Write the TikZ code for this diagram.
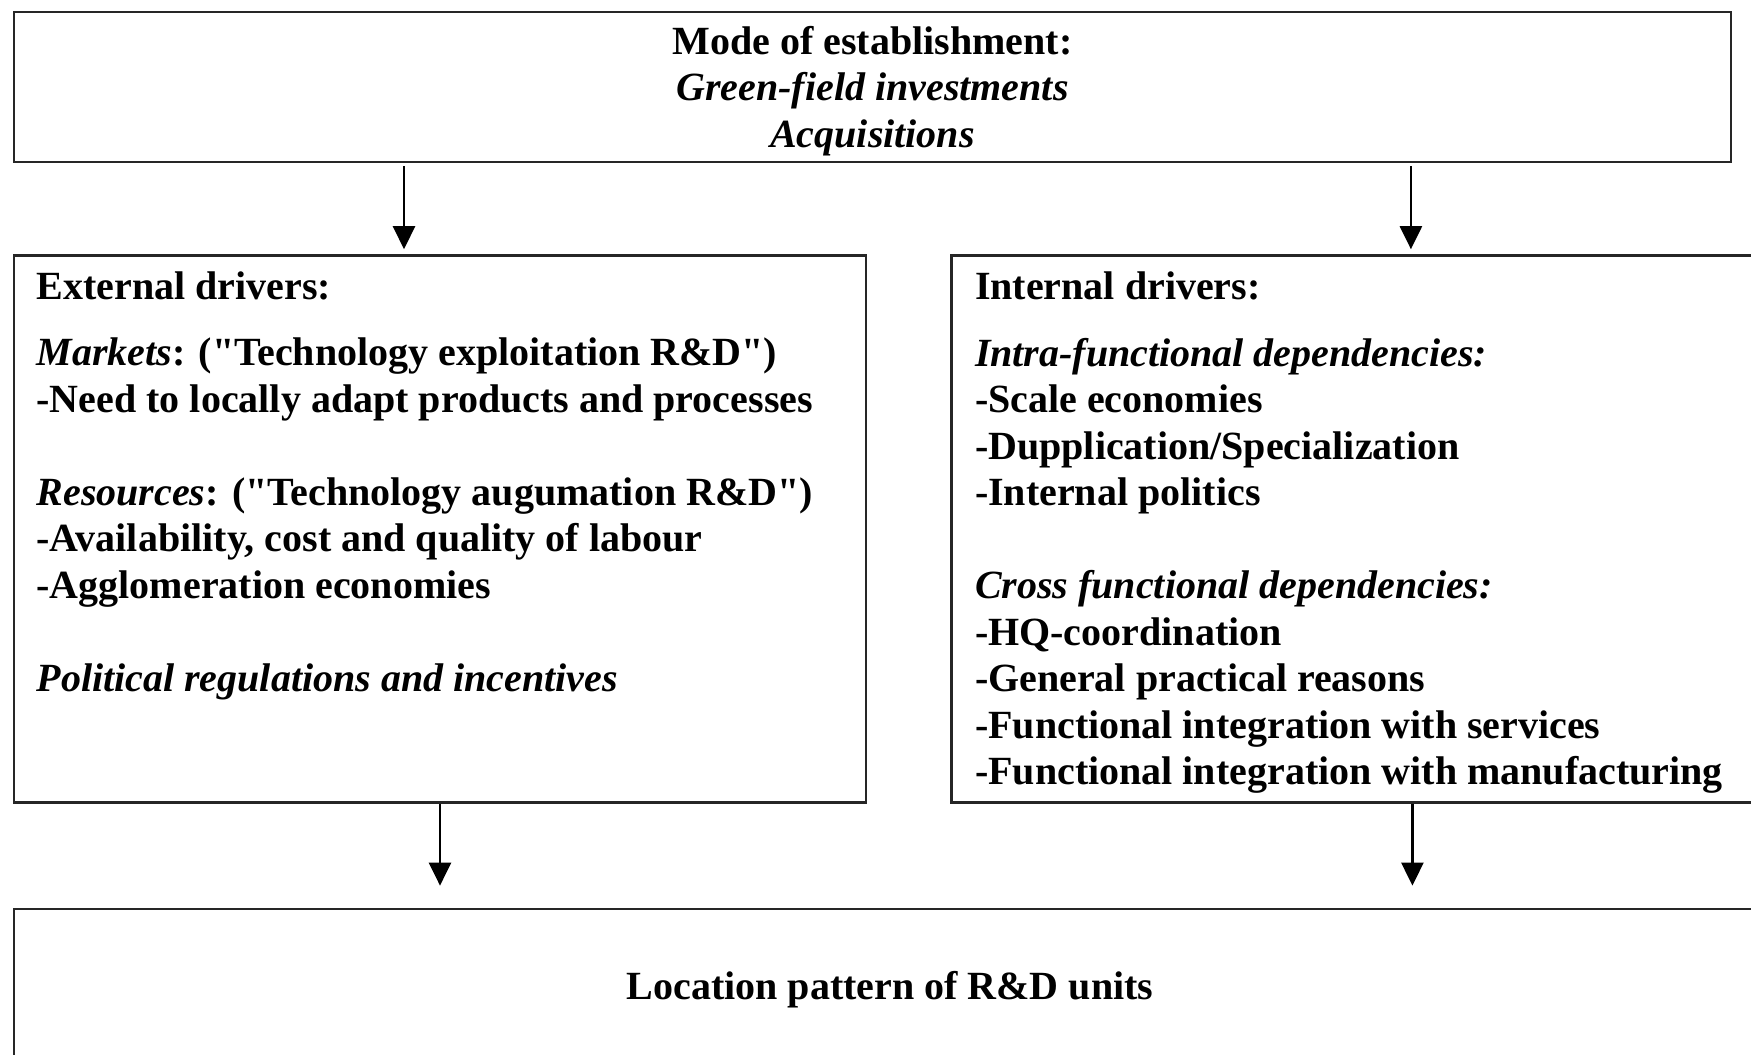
\documentclass[tikz,border=0pt]{standalone}
\usepackage{fontspec}
\setmainfont{Liberation Serif}
\usepackage{tikz}
\usetikzlibrary{arrows.meta,positioning,calc}

\begin{document}
\begin{tikzpicture}[
  x=0.25pt,y=0.25pt,
  font=\fontsize{10pt}{11.625pt}\selectfont\bfseries,
  box/.style={rectangle,draw=black!85,line width=0.6pt,inner sep=0pt,align=center},
  txt/.style={inner sep=0pt,align=left,anchor=base west},
  arr/.style={-{Triangle[length=5.75pt,width=5.5pt]},line width=0.6pt}
]
\useasboundingbox (0,0) rectangle (1751,-1054);
\clip (0,0) rectangle (1751,-1054);
\node[box,minimum width=429.25pt,minimum height=37.5pt] (mode) at (872.5,-87) {};
\node[align=center,inner sep=0pt,yshift=-1pt] (modetext) at (mode) {Mode of establishment:\\\textit{Green-field investments}\\\textit{Acquisitions}};
\node[box,minimum width=213pt,minimum height=136.75pt,below=22.75pt of mode.south west,anchor=north west] (ext) {};
\node[box,minimum width=230.5pt,minimum height=136.75pt,right=20.75pt of ext] (int) {};
\node[box,minimum width=438pt,minimum height=40.25pt,below=26pt of ext.south west,anchor=north west] (loc) {Location pattern of R\&D units};

\node[txt] (exttext) at ($(ext.north west)+(23,-437)$) {External drivers:\\[5pt]
\textit{Markets}: (\textquotedbl Technology exploitation R\&D\textquotedbl)\\
-Need to locally adapt products and processes\\[11.625pt]
\textit{Resources}: (\textquotedbl Technology augumation R\&D\textquotedbl)\\
-Availability, cost and quality of labour\\
-Agglomeration economies\\[11.625pt]
\textit{Political regulations and incentives}};
\node[txt] (inttext) at ($(int.north west)+(24,-530.5)$) {Internal drivers:\\[5pt]
\textit{Intra-functional dependencies:}\\
-Scale economies\\
-Dupplication/Specialization\\
-Internal politics\\[11.625pt]
\textit{Cross functional dependencies:}\\
-HQ-coordination\\
-General practical reasons\\
-Functional integration with services\\
-Functional integration with manufacturing};

\draw[arr] ($(ext.north |- mode.south)+(-36,-3)$) -- ($(ext.north)+(-36,5)$);
\draw[arr] ($(int.north |- mode.south)+(-1.5,-3)$) -- ($(int.north)+(-1.5,5)$);
\draw[arr] (ext.south) -- ($(ext.south |- loc.north)+(0,22)$);
\draw[arr] (int.south) -- ($(int.south |- loc.north)+(0,22)$);
\end{tikzpicture}
\end{document}
